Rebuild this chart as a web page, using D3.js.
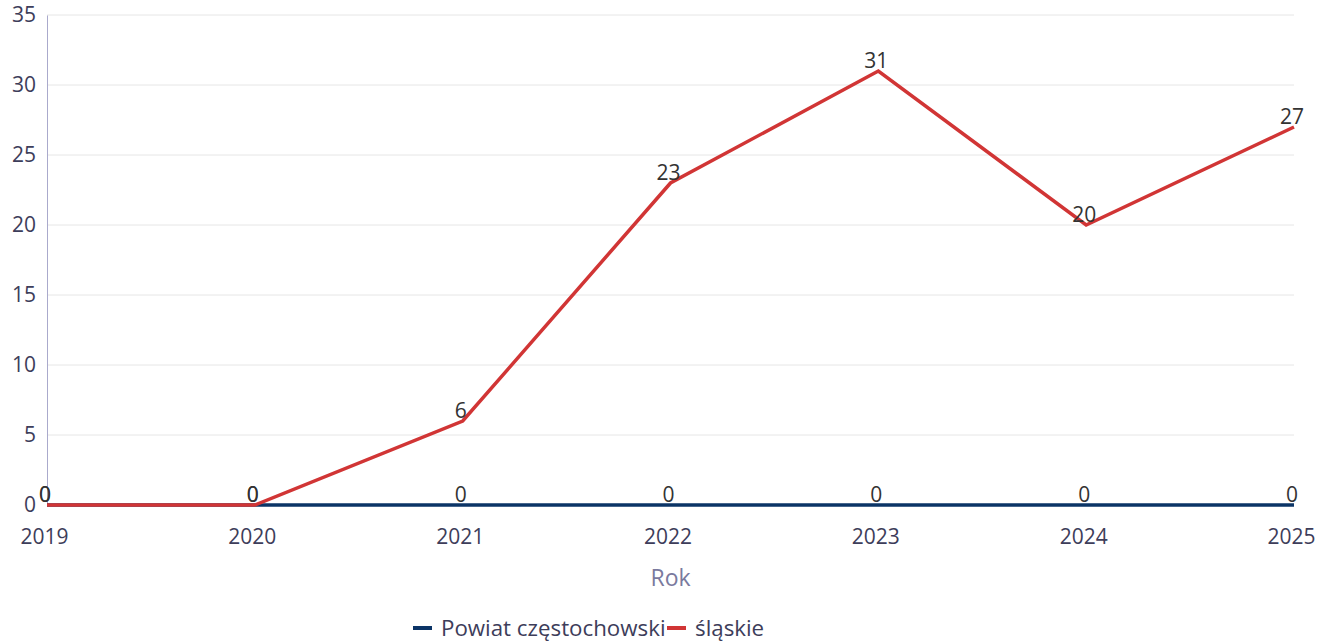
<!DOCTYPE html>
<html><head><meta charset="utf-8">
<script src="https://cdn.jsdelivr.net/npm/d3@7"></script>
<style>body{margin:0;background:#fff;font-family:"Open Sans",sans-serif;}</style>
</head><body><svg id="c" width="1329" height="644"></svg>
<script>
const years = ["2019","2020","2021","2022","2023","2024","2025"];
const powiat = [0,0,0,0,0,0,0];
const slaskie = [0,0,6,23,31,20,27];
const yTicks = [0,5,10,15,20,25,30,35];
const seriesNames = ["Powiat częstochowski","śląskie"];
const colors = ["#0b3466","#d13535"];

(function(){
const svg = d3.select("#c");
const mL=47, mR=1294, mT=15, mB=505;
const x = d3.scalePoint().domain(years).range([mL,mR]);
const y = d3.scaleLinear().domain([0,35]).range([mB,mT]);

// grid
svg.append("g").selectAll("line").data(yTicks.filter(d=>d>0)).join("line")
  .attr("x1",mL).attr("x2",mR).attr("y1",d=>y(d)).attr("y2",d=>y(d))
  .attr("stroke","#e6e6e6").attr("stroke-width",1);

// y axis
const ya = svg.append("g").attr("transform",`translate(${mL},0)`).call(d3.axisLeft(y).tickValues(yTicks).tickSize(0).tickPadding(11));
ya.select(".domain").attr("stroke","#aaaacc").attr("stroke-width",1);
ya.selectAll("text").attr("font-family","Open Sans").attr("font-size",21).attr("fill","#3d3d5a");

// x axis
const xa = svg.append("g").attr("transform",`translate(0,${mB})`).call(d3.axisBottom(x).tickSize(0).tickPadding(24));
xa.select(".domain").remove();
xa.selectAll("text").attr("font-family","Open Sans").attr("font-size",21).attr("fill","#3d3d5a").attr("dx",-3);

svg.append("text").attr("x",(mL+mR)/2).attr("y",586).attr("text-anchor","middle")
  .attr("font-size",23).attr("fill","#7a7a9e").text("Rok");

const data = [powiat, slaskie];
const line = d3.line().x((d,i)=>x(years[i])).y(d=>y(d));
data.forEach((s,k)=>{
  svg.append("path").datum(s).attr("d",line).attr("fill","none")
    .attr("stroke",colors[k]).attr("stroke-width",3.5).attr("stroke-linejoin","miter");
});
data.forEach((s,k)=>{
  svg.append("g").selectAll("text").data(s).join("text")
    .attr("x",(d,i)=>x(years[i])-2).attr("y",d=>y(d)-3)
    .attr("text-anchor","middle").attr("font-size",21).attr("fill","#333")
    .text(d=>d);
});

// legend
const lg = svg.append("g");
const items = [{x:413,name:seriesNames[0],c:colors[0]},{x:667,name:seriesNames[1],c:colors[1]}];
items.forEach(it=>{
  lg.append("line").attr("x1",it.x).attr("x2",it.x+19).attr("y1",628).attr("y2",628)
    .attr("stroke",it.c).attr("stroke-width",4);
  lg.append("text").attr("x",it.x+28).attr("y",636).attr("font-size",22.3).attr("fill","#3d3d5a").text(it.name);
});
})();
</script></body></html>
